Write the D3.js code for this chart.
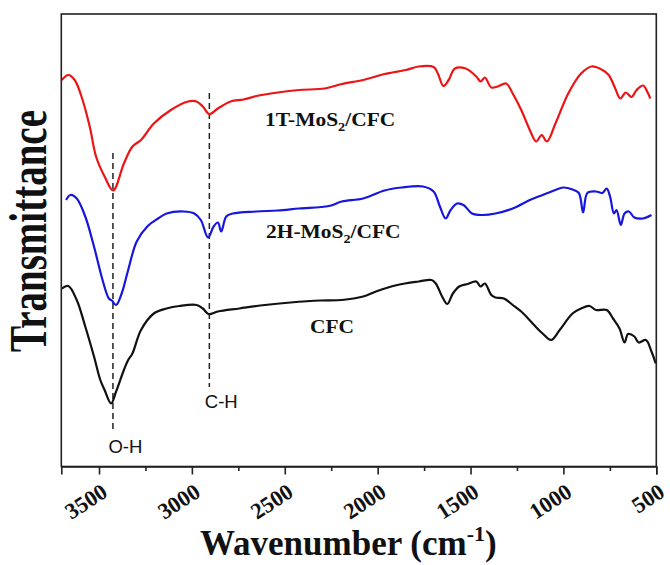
<!DOCTYPE html>
<html>
<head>
<meta charset="utf-8">
<script src="https://cdn.jsdelivr.net/npm/d3@7/dist/d3.min.js"></script>
<style>
  html, body { margin: 0; padding: 0; background: #fff; }
  svg { display: block; }
</style>
</head>
<body>
<svg id="chart" width="670" height="565"></svg>
<script>
// FTIR spectra: wavenumber (cm^-1) vs. transmittance (a.u., curves offset)
const majorTicks = [3500, 3000, 2500, 2000, 1500, 1000, 500];
const minorTicks = [3250, 2750, 2250, 1750, 1250, 750];

const oneTWavenumber = [3700,3665,3631,3597,3550,3516,3470,3424,3366,3320,3274,3205,3113,3021,2975,2941,2906,2860,2792,2722,2653,2538,2423,2285,2193,2078,1963,1848,1779,1699,1676,1646,1618,1584,1526,1469,1446,1423,1388,1354,1308,1273,1227,1181,1147,1117,1089,1043,974,905,848,790,756,721,694,664,634,606,571,548,532];
const oneTTransmittance = [77.3,78.3,77.3,74.3,68.0,62.0,58.0,55.2,60.6,64.0,65.3,68.6,71.3,73.0,73.0,72.0,70.5,71.6,73.0,73.4,74.1,74.8,75.3,75.6,76.5,77.3,78.5,79.3,80.0,79.9,78.6,76.1,77.3,79.6,79.6,78.0,77.0,77.8,75.8,76.0,76.6,74.6,71.3,67.3,65.0,66.3,65.0,68.6,74.6,78.6,80.0,79.3,78.3,75.6,73.6,74.8,73.9,75.3,76.2,74.9,73.6];

const twoHWavenumber = [3677,3654,3620,3574,3527,3481,3447,3431,3408,3378,3343,3297,3240,3182,3136,3044,2987,2952,2913,2883,2860,2842,2815,2780,2653,2538,2423,2262,2193,2078,1963,1871,1756,1699,1665,1634,1607,1572,1538,1492,1435,1366,1273,1181,1112,1043,1002,951,917,894,871,825,790,767,749,728,714,691,671,648,618,572,526];
const twoHTransmittance = [53.3,54.3,53.6,50.0,44.0,37.3,33.6,33.2,32.3,34.6,39.3,45.0,48.0,49.6,50.6,51.0,50.6,49.3,45.8,48.0,48.8,47.0,50.0,50.6,51.0,51.2,51.6,52.1,53.0,53.6,55.2,55.8,56.0,55.0,52.0,49.6,51.3,52.6,52.3,50.6,50.3,50.6,51.6,53.3,54.3,55.3,55.8,55.4,54.7,50.8,54.7,55.0,54.7,55.6,54.0,50.6,51.3,48.3,50.6,51.0,49.8,49.6,50.3];

const cfcWavenumber = [3700,3665,3620,3574,3527,3493,3470,3435,3408,3366,3343,3320,3274,3205,3136,3067,2975,2941,2911,2860,2745,2607,2469,2308,2193,2078,2009,1894,1779,1710,1687,1653,1625,1595,1561,1515,1469,1446,1423,1388,1366,1320,1273,1216,1158,1112,1066,1020,951,905,859,825,767,733,698,671,652,618,595,556,526,503];
const cfcTransmittance = [35.6,36.1,33.3,28.0,22.0,17.3,15.3,12.6,15.0,19.3,21.3,22.6,27.3,30.6,31.6,32.1,32.3,31.6,30.5,31.0,31.6,32.3,32.8,33.2,33.3,34.0,35.0,36.3,37.0,37.3,36.6,34.0,32.5,34.6,36.0,36.5,37.0,36.0,36.6,34.3,33.8,33.6,32.3,30.6,28.3,26.6,25.3,27.3,30.6,31.6,32.1,31.3,31.3,29.6,27.6,24.8,26.5,26.0,24.8,25.3,23.0,20.6];

const bandWavenumbers = [3425, 2906];
const bandLabels = ["O-H", "C-H"];

const svg = d3.select("#chart");
const plotLeft = 61.3, plotRight = 656.3, plotTop = 14, plotBottom = 466.5;

const x = d3.scaleLinear().domain([3703, 500]).range([plotLeft, plotRight]);
const y = d3.scaleLinear().domain([0, 90.5]).range([plotBottom, plotTop]);

const serif = "'Liberation Serif', 'Times New Roman', serif";
const sans = "'Liberation Sans', Arial, sans-serif";

// Dashed band markers
const bandExtents = [[62.7, 6.9], [74.7, 15.9]];
bandWavenumbers.forEach((wn, i) => {
  svg.append("line")
    .attr("x1", x(wn)).attr("x2", x(wn))
    .attr("y1", y(bandExtents[i][0])).attr("y2", y(bandExtents[i][1]))
    .attr("stroke", "#222").attr("stroke-width", 1.5)
    .attr("stroke-dasharray", "6,4");
});
const bandLabelBaselines = [453, 408];
bandWavenumbers.forEach((wn, i) => {
  svg.append("text")
    .attr("x", x(wn) - 4.5).attr("y", bandLabelBaselines[i])
    .attr("font-family", sans).attr("font-size", 18.5)
    .attr("fill", "#111")
    .text(bandLabels[i]);
});

// Spectra
const series = [
  { wn: oneTWavenumber, t: oneTTransmittance, color: "#ec1414" },
  { wn: twoHWavenumber, t: twoHTransmittance, color: "#1616dc" },
  { wn: cfcWavenumber, t: cfcTransmittance, color: "#111111" }
];
const line = d3.line()
  .x(d => x(d[0])).y(d => y(d[1]))
  .curve(d3.curveCatmullRom.alpha(0.5));
series.forEach(s => {
  svg.append("path")
    .datum(s.wn.map((w, i) => [w, s.t[i]]))
    .attr("d", line)
    .attr("fill", "none")
    .attr("stroke", s.color)
    .attr("stroke-width", 2.2)
    .attr("stroke-linejoin", "round");
});

// Frame
svg.append("rect")
  .attr("x", plotLeft).attr("y", plotTop)
  .attr("width", plotRight - plotLeft).attr("height", plotBottom - plotTop)
  .attr("fill", "none").attr("stroke", "#222").attr("stroke-width", 1.6);

// Bottom axis with major and minor ticks
svg.append("g").attr("transform", `translate(0,${plotBottom})`)
  .call(d3.axisBottom(x).tickValues(majorTicks).tickSize(8).tickFormat(""))
  .call(g => g.select(".domain").attr("stroke", "#222").attr("stroke-width", 1.6))
  .call(g => g.selectAll(".tick line").attr("stroke", "#222").attr("stroke-width", 1.6));
svg.append("g").attr("transform", `translate(0,${plotBottom})`)
  .call(d3.axisBottom(x).tickValues(minorTicks).tickSize(4.5).tickFormat(""))
  .call(g => g.select(".domain").remove())
  .call(g => g.selectAll(".tick line").attr("stroke", "#222").attr("stroke-width", 1.6));

majorTicks.forEach(v => {
  svg.append("text")
    .attr("transform", `translate(${x(v) + 10},${plotBottom + 29}) rotate(-33)`)
    .attr("text-anchor", "end")
    .attr("font-family", serif).attr("font-weight", "bold").attr("font-size", 22.5)
    .attr("fill", "#111")
    .text(v);
});

// Axis titles
const xt = svg.append("text")
  .attr("x", 200).attr("y", 555)
  .attr("font-family", serif).attr("font-weight", "bold").attr("font-size", 35)
  .attr("fill", "#111");
xt.append("tspan").text("Wavenumber (cm");
xt.append("tspan").attr("font-size", 22).attr("dy", -14).text("-1");
xt.append("tspan").attr("dy", 14).text(")");

svg.append("text")
  .attr("transform", "translate(46,231) rotate(-90)")
  .attr("text-anchor", "middle")
  .attr("font-family", serif).attr("font-weight", "bold").attr("font-size", 52)
  .attr("textLength", 242).attr("lengthAdjust", "spacingAndGlyphs")
  .attr("fill", "#111")
  .text("Transmittance");

// Curve labels
const curveLabels = [
  { pre: "1T-MoS", sub: "2", post: "/CFC", x: 265, y: 126 },
  { pre: "2H-MoS", sub: "2", post: "/CFC", x: 266, y: 238 },
  { pre: "CFC", sub: "", post: "", x: 310, y: 333 }
];
curveLabels.forEach(l => {
  const t = svg.append("text")
    .attr("transform", `translate(${l.x},${l.y}) scale(1.1,1)`)
    .attr("font-family", serif).attr("font-weight", "bold").attr("font-size", 19.5)
    .attr("fill", "#111");
  t.append("tspan").text(l.pre);
  if (l.sub) {
    t.append("tspan").attr("font-size", 13).attr("dy", 5).text(l.sub);
    t.append("tspan").attr("dy", -5).text(l.post);
  }
});
</script>
</body>
</html>
